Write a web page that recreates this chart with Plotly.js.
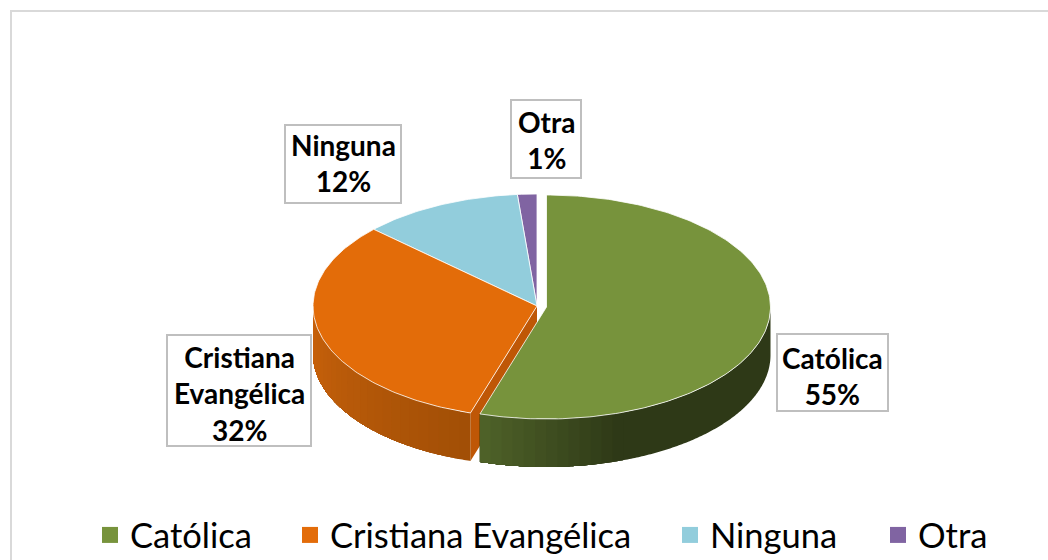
<!DOCTYPE html>
<html><head><meta charset="utf-8">
<script src="https://cdn.plot.ly/plotly-3.0.1.min.js"></script>
<style>html,body{margin:0;padding:0;background:#fff}</style></head>
<body><div id="chart" style="width:1048px;height:560px"></div>
<script>
const categories = ["Católica","Cristiana Evangélica","Ninguna","Otra"];
const values = [54.8, 32.2, 11.6, 1.4];
const shown = [55, 32, 12, 1];
const topColors = ["#77933C","#E36C09","#92CDDC","#8064A2"];

const CX=537, CY=306, RX=224, RY=112, DEPTH=48;
const EX=9.5, EY=1;               // explosion of the first slice
const toRad=d=>d*Math.PI/180;
const pt=(a,cx,cy,dy=0)=>[cx+RX*Math.sin(toRad(a)), cy-RY*Math.cos(toRad(a))+dy];

function mix(a,b,t){const p=s=>[1,3,5].map(i=>parseInt(s.substr(i,2),16));
  const A=p(a),B=p(b);return "rgb("+A.map((v,i)=>Math.round(v+(B[i]-v)*t)).join(",")+")";}
function poly(pts,color,line,lw){return {type:"scatter",mode:line?"lines":"none",x:pts.map(p=>p[0]),y:pts.map(p=>p[1]),
  fill:"toself",fillcolor:color,line:{color:line||color,width:lw||0},hoverinfo:"skip",showlegend:false};}
function sector(a0,a1,cx,cy){const pts=[[cx,cy]];
  for(let a=a0;a<a1;a+=1) pts.push(pt(a,cx,cy));
  pts.push(pt(a1,cx,cy));pts.push([cx,cy]);return pts;}
// wall between angles aFrom..aTo: each band is painted from its start to aEnd, the next one over it
function wall(aFrom,aTo,aEnd,cx,cy,c0,c1,traces,step){
  const n=Math.max(1,Math.ceil(Math.abs(aTo-aFrom)/step)),dir=aEnd>aFrom?1:-1;
  for(let i=0;i<n;i++){const s=aFrom+(aTo-aFrom)*i/n,pts=[];
    for(let a=s;(aEnd-a)*dir>0;a+=dir*0.5) pts.push(pt(a,cx,cy));
    pts.push(pt(aEnd,cx,cy));pts.push(pt(aEnd,cx,cy,DEPTH));
    for(let a=aEnd;(a-s)*dir>0;a-=dir*0.5) pts.push(pt(a,cx,cy,DEPTH));
    pts.push(pt(s,cx,cy,DEPTH));pts.push(pts[0]);
    traces.push(poly(pts,mix(c0,c1,n>1?i/(n-1):0)));}
}
const total=values.reduce((a,b)=>a+b,0);
let acc=0;const ang=values.map(v=>{const r=[acc/total*360,(acc+v)/total*360];acc+=v;return r;});

const traces=[];
const oa=ang[1][0], ga=ang[0][1];
// orange cut face, seen through the gap left by the exploded slice
traces.push(poly([[CX,CY],pt(oa,CX,CY),pt(oa,CX,CY,DEPTH),[CX,CY+DEPTH],[CX,CY]],"#BF5706"));
// outer walls
wall(oa,270,270,CX,CY,"#A24F06","#C9620B",traces,3);
wall(90,160,ga,CX+EX,CY+EY,"#2E3917","#2E3917",traces,70);
wall(160,ga,ga,CX+EX,CY+EY,"#2E3917","#4E6128",traces,3);
// top faces
[3,2,1].forEach(i=>traces.push(poly(sector(ang[i][0],ang[i][1],CX,CY),topColors[i],"#ffffff",0.8)));
traces.push(poly(sector(ang[0][0],ang[0][1],CX+EX,CY+EY),topColors[0],"#ffffff",0.8));

// legend keys
const legendX=[90,290,670,878];
categories.forEach((c,i)=>traces.push({type:"scatter",mode:"markers",x:[null],y:[null],name:c,
  marker:{symbol:"square",size:16,color:topColors[i]},showlegend:true,legend:i?"legend"+(i+1):"legend",hoverinfo:"skip"}));

const boxes=[[776,333,889,412],[166,334,312,447],[284,124,402,204],[510,99,582,179]];
const labelY=[376,393,163,140];
const annotations=categories.map((c,i)=>{const b=boxes[i];
  const t=(i===1?"Cristiana<br>Evangélica":c)+"<br>"+shown[i]+"%";
  return {xref:"x",yref:"y",x:(b[0]+b[2])/2,y:labelY[i],text:t,showarrow:false,xanchor:"center",yanchor:"middle",
    font:{family:"Lato",size:28,color:"#000",weight:700},align:"center"};});
const boxShapes=boxes.map(b=>({type:"rect",xref:"x",yref:"y",x0:b[0]+1,y0:b[1]+1,x1:b[2]-1,y1:b[3]-1,
  line:{color:"#BFBFBF",width:2},fillcolor:"#ffffff",layer:"above"}));

const layout={width:1048,height:560,margin:{l:0,r:0,t:0,b:0,autoexpand:false},paper_bgcolor:"#fff",plot_bgcolor:"#fff",
  xaxis:{range:[0,1048],visible:false,fixedrange:true},yaxis:{range:[560,0],visible:false,fixedrange:true},
  shapes:[{type:"rect",xref:"x",yref:"y",x0:11,y0:11,x1:1060,y1:600,line:{color:"#D9D9D9",width:2},fillcolor:"rgba(0,0,0,0)",layer:"below"}].concat(boxShapes),
  annotations};
categories.forEach((c,i)=>{layout[i?"legend"+(i+1):"legend"]={x:legendX[i]/1048,y:(560-506)/560,xanchor:"left",yanchor:"top",
  orientation:"h",bgcolor:"rgba(0,0,0,0)",font:{family:"Lato",size:34.5,color:"#000"},itemclick:false,itemdoubleclick:false};});
Plotly.newPlot("chart",traces,layout,{displayModeBar:false,staticPlot:true});
</script></body></html>
